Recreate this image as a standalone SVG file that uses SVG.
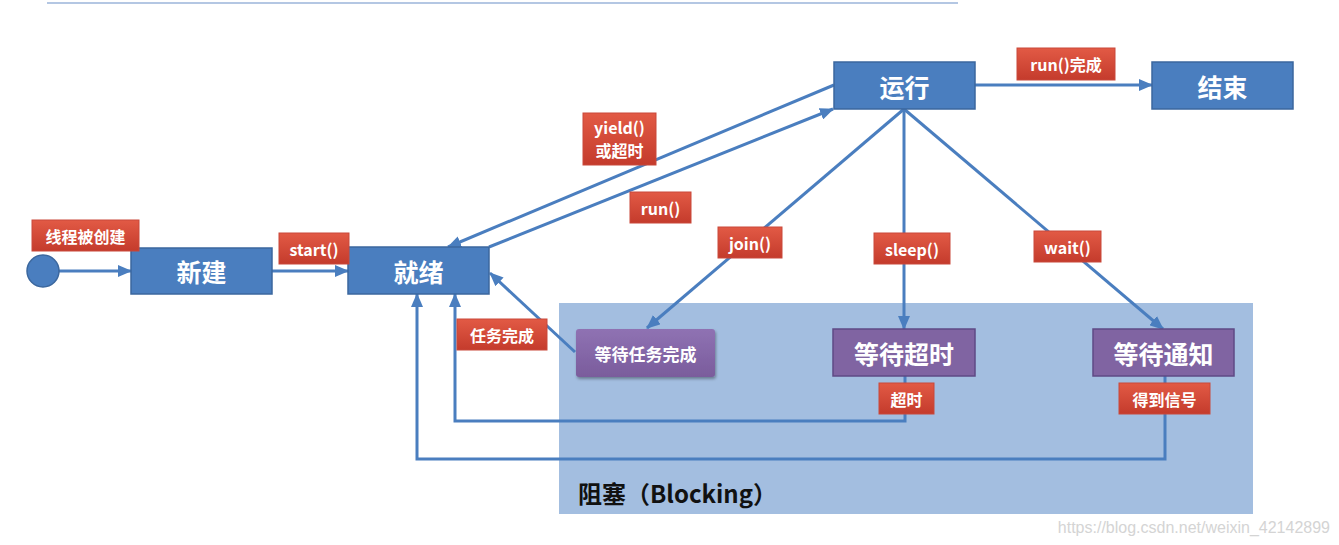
<svg xmlns="http://www.w3.org/2000/svg" width="1339" height="545" viewBox="0 0 1339 545">
<style>
.box{fill:#4a7ebf;stroke:#3b679e;stroke-width:1.5}
.pbox{fill:#8064a2;stroke:#5f4a85;stroke-width:1.5}
.lbl{fill:url(#rg);stroke:#c9483a;stroke-width:1}
.bt{font-family:"Noto Sans CJK SC","Noto Sans",sans-serif;font-weight:bold;fill:#fff;text-anchor:middle;dominant-baseline:central}
.lt{font-family:"Noto Sans CJK SC","Noto Sans",sans-serif;font-weight:bold;fill:#fff;text-anchor:middle;dominant-baseline:central;font-size:16px}
.c{fill:none;stroke:#4a7ebf;stroke-width:3}
</style>
<defs>
<linearGradient id="rg" x1="0" y1="0" x2="0" y2="1"><stop offset="0" stop-color="#e25a45"/><stop offset="1" stop-color="#c43b2c"/></linearGradient>
<linearGradient id="pg" x1="0" y1="0" x2="0" y2="1"><stop offset="0" stop-color="#8f72b3"/><stop offset="1" stop-color="#7a5c9c"/></linearGradient>
<filter id="sh" x="-10%" y="-10%" width="130%" height="140%"><feDropShadow dx="1" dy="2" stdDeviation="1.5" flood-color="#000" flood-opacity="0.35"/></filter>
<marker id="ah" markerUnits="userSpaceOnUse" markerWidth="14" markerHeight="12" refX="13" refY="6" orient="auto"><path d="M0,0 L14,6 L0,12 Z" fill="#4a7ebf"/></marker>
</defs>
<rect width="1339" height="545" fill="#fff"/>
<line x1="47" y1="3" x2="958" y2="3" stroke="#b4c7e3" stroke-width="2"/>
<g id="blocking">
<rect x="559" y="303" width="694" height="211" fill="#a3bee0"/>
<text x="578" y="503" font-family="'Noto Sans CJK SC','Noto Sans',sans-serif" font-weight="bold" font-size="24" fill="#111">阻塞（Blocking）</text>
</g>
<g id="connectors">
<line class="c" x1="59" y1="271" x2="131" y2="271" marker-end="url(#ah)"/>
<line class="c" x1="272" y1="271" x2="348" y2="271" marker-end="url(#ah)"/>
<line class="c" x1="834" y1="85" x2="448" y2="247" marker-end="url(#ah)"/>
<line class="c" x1="489" y1="247" x2="833" y2="109" marker-end="url(#ah)"/>
<line class="c" x1="975" y1="85" x2="1152" y2="85" marker-end="url(#ah)"/>
<line class="c" x1="904" y1="109" x2="647" y2="328" marker-end="url(#ah)"/>
<line class="c" x1="904" y1="109" x2="904" y2="329" marker-end="url(#ah)"/>
<line class="c" x1="904" y1="109" x2="1163" y2="329" marker-end="url(#ah)"/>
<line class="c" x1="575" y1="352" x2="490" y2="273" marker-end="url(#ah)"/>
<polyline class="c" points="905,376 905,421 455,421 455,294" marker-end="url(#ah)"/>
<polyline class="c" points="1165,376 1165,459 417,459 417,294" marker-end="url(#ah)"/>
</g>
<g id="start"><circle cx="43" cy="271" r="16" fill="#4a7ebf" stroke="#3b679e" stroke-width="1.5"/></g>
<g id="new"><rect class="box" x="131" y="248" width="141" height="46"/><text class="bt" x="201.5" y="271" font-size="25">新建</text></g>
<g id="ready"><rect class="box" x="348" y="247" width="141" height="47"/><text class="bt" x="418.5" y="270.5" font-size="25">就绪</text></g>
<g id="running"><rect class="box" x="834" y="62" width="141" height="47"/><text class="bt" x="904.5" y="85.5" font-size="25">运行</text></g>
<g id="end"><rect class="box" x="1152" y="62" width="141" height="47"/><text class="bt" x="1222.5" y="85.5" font-size="25">结束</text></g>
<g id="waitTask"><rect x="576" y="329" width="139" height="48" rx="3" fill="url(#pg)" filter="url(#sh)"/><text class="bt" x="645.5" y="353" font-size="17">等待任务完成</text></g>
<g id="waitTimeout"><rect class="pbox" x="833" y="329" width="142" height="47"/><text class="bt" x="904" y="352.5" font-size="25">等待超时</text></g>
<g id="waitNotify"><rect class="pbox" x="1093" y="329" width="141" height="47"/><text class="bt" x="1163.5" y="352.5" font-size="25">等待通知</text></g>
<g id="labels">
<rect class="lbl" x="32" y="220" width="107" height="31"/><text class="lt" x="85.5" y="235.5" font-size="17">线程被创建</text>
<rect class="lbl" x="279" y="233" width="70" height="31"/><text class="lt" x="314" y="248.5">start()</text>
<rect class="lbl" x="1017" y="48" width="98" height="32"/><text class="lt" x="1066" y="64">run()完成</text>
<rect class="lbl" x="583" y="113" width="73" height="52"/><text class="lt" x="619.5" y="127" font-size="15">yield()</text><text class="lt" x="619.5" y="150" font-size="15">或超时</text>
<rect class="lbl" x="630" y="192" width="61" height="31"/><text class="lt" x="660.5" y="207.5">run()</text>
<rect class="lbl" x="718" y="227" width="64" height="31"/><text class="lt" x="750" y="242.5">join()</text>
<rect class="lbl" x="874" y="233" width="76" height="31"/><text class="lt" x="912" y="248.5">sleep()</text>
<rect class="lbl" x="1034" y="231" width="67" height="31"/><text class="lt" x="1067.5" y="246.5">wait()</text>
<rect class="lbl" x="457" y="319" width="90" height="31"/><text class="lt" x="502" y="334.5">任务完成</text>
<rect class="lbl" x="879" y="383" width="55" height="31"/><text class="lt" x="906.5" y="398.5">超时</text>
<rect class="lbl" x="1119" y="383" width="91" height="31"/><text class="lt" x="1164.5" y="398.5">得到信号</text>
</g>
<text x="1330" y="533" text-anchor="end" font-family="'Liberation Sans',Arial,sans-serif" font-size="16" fill="#d4d4d4">https://blog.csdn.net/weixin_42142899</text>
</svg>
